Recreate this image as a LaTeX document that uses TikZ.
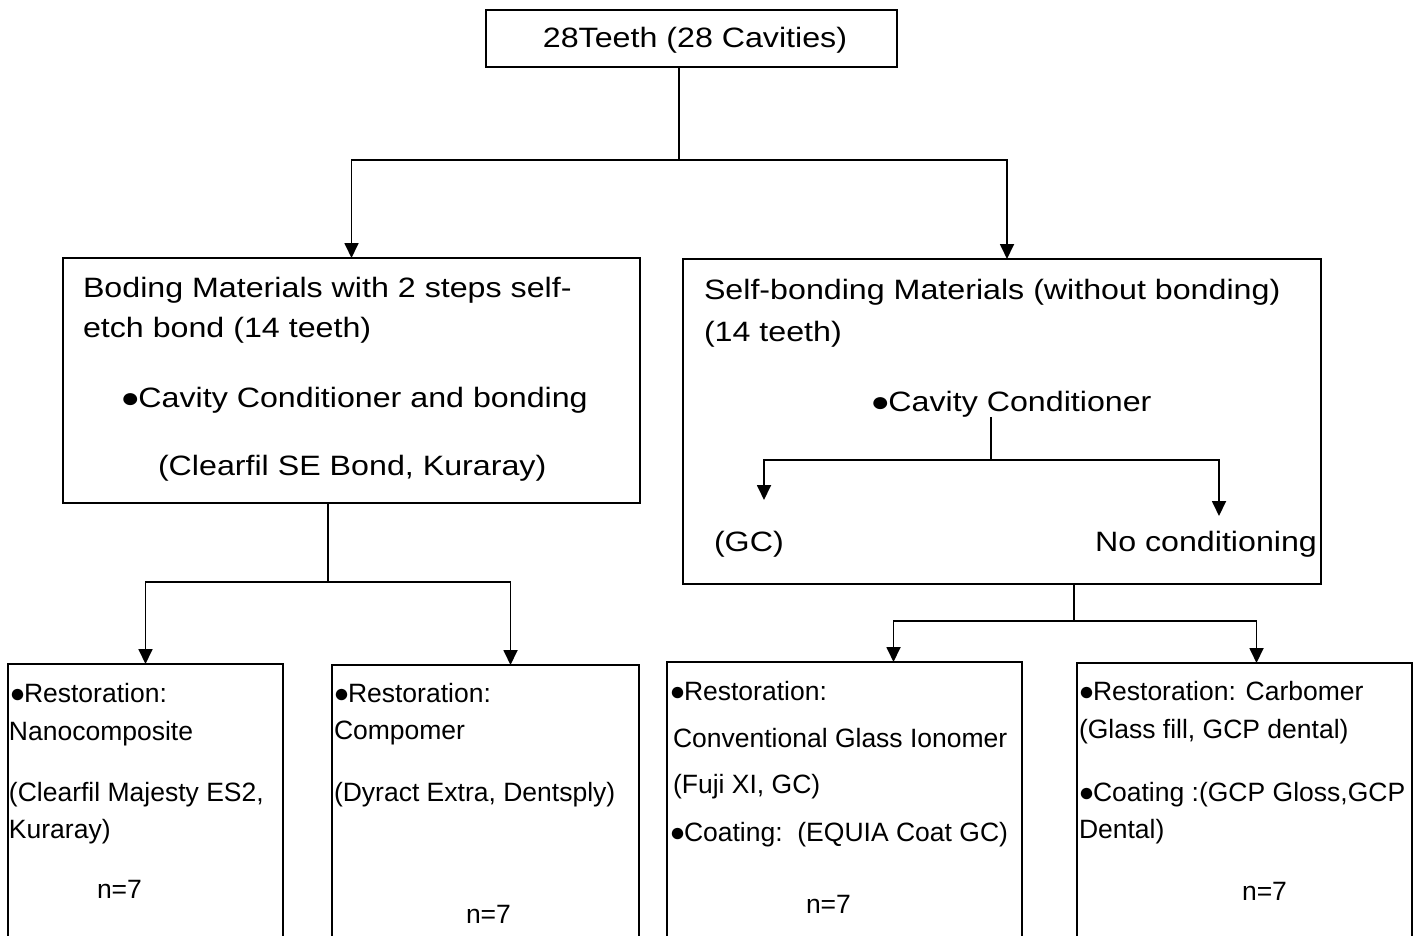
\documentclass[tikz,border=0pt]{standalone}
\usepackage{fontspec}
\usepackage{graphicx}
\setmainfont{Liberation Sans}
\newfontfamily\widefont[FakeStretch=1.15]{Liberation Sans}
\usetikzlibrary{arrows.meta}
\newcommand\bigtxt{\widefont\fontsize{28}{34}\selectfont}
\newcommand\smalltxt{\fontsize{26.5}{32}\selectfont}
\newcommand\bul{\kern-0.5pt\raisebox{-0.02em}{●}\kern-1.5pt}
\begin{document}
\begin{tikzpicture}[x=1pt,y=-1pt,
  box/.style={draw=black, line width=1.8pt, rectangle, inner sep=0pt, outer sep=0pt, anchor=north west},
  conn/.style={draw=black, line width=1.8pt},
  arr/.style={conn, -{Triangle[length=15pt,width=14pt]}},
  bt/.style={inner sep=0pt, outer sep=0pt, anchor=base west, font=\bigtxt},
  st/.style={inner sep=0pt, outer sep=0pt, anchor=base west, font=\smalltxt}]
\useasboundingbox (0,0) rectangle (1424,936);

% boxes
\node[box, minimum width=411pt, minimum height=57pt] (top) at (486,10) {};
\node[box, minimum width=577pt, minimum height=245pt] (left) at (63,258) {};
\node[box, minimum width=638pt, minimum height=325pt] (right) at (683,259) {};
\node[box, minimum width=275pt, minimum height=290pt] (b1) at (8,664) {};
\node[box, minimum width=307pt, minimum height=290pt] (b2) at (332,665) {};
\node[box, minimum width=355pt, minimum height=290pt] (b3) at (667,662) {};
\node[box, minimum width=335pt, minimum height=290pt] (b4) at (1077,663) {};

% top text
\node[bt, anchor=base] (ttop) at (695,48) {28Teeth (28 Cavities)};

% left box texts
\node[bt] (l1) at (83,297) {Boding Materials with 2 steps self-};
\node[bt] (l2) at (83,337) {etch bond (14 teeth)};
\node[bt] (l3) at (121,407) {\bul Cavity Conditioner and bonding};
\node[bt] (l4) at (158,475) {(Clearfil SE Bond, Kuraray)};

% right box texts
\node[bt] (r1) at (704,299) {Self-bonding Materials (without bonding)};
\node[bt] (r2) at (704,341) {(14 teeth)};
\node[bt] (r3) at (871,411) {\bul Cavity Conditioner};
\node[bt] (gc) at (714,551) {(GC)};
\node[bt] (noc) at (1095,551) {No conditioning};

% bottom box 1
\node[st] (a1) at (10,702) {\bul Restoration:};
\node[st] (a2) at (9,740) {Nanocomposite};
\node[st] (a3) at (9,801) {(Clearfil Majesty ES2,};
\node[st] (a4) at (9,838) {Kuraray)};
\node[st] (a5) at (97,898) {n=7};

% bottom box 2
\node[st] (c1) at (334,702) {\bul Restoration:};
\node[st] (c2) at (334,739) {Compomer};
\node[st] (c3) at (334,801) {(Dyract Extra, Dentsply)};
\node[st] (c4) at (466,923) {n=7};

% bottom box 3
\node[st] (d1) at (670,700) {\bul Restoration:};
\node[st] (d2) at (673,747) {Conventional Glass Ionomer};
\node[st] (d3) at (673,793) {(Fuji XI, GC)};
\node[st] (d4) at (670,841) {\bul Coating:\ \ (EQUIA Coat GC)};
\node[st] (d5) at (806,913) {n=7};

% bottom box 4
\node[st] (e1) at (1079,700) {\bul Restoration: Carbomer};
\node[st] (e2) at (1079,738) {(Glass fill, GCP dental)};
\node[st] (e3) at (1079,801) {\bul Coating :(GCP Gloss,GCP};
\node[st] (e4) at (1079,838) {Dental)};
\node[st] (e5) at (1242,900) {n=7};

% connectors
\coordinate (j0) at (679,160);
\draw[conn] (top.south -| j0) -- (j0);
\draw[arr] (j0) -| (left.north);
\draw[arr] (j0) -| ([xshift=5pt]right.north);

\coordinate (j1) at (328,582);
\draw[conn] (left.south -| j1) -- (j1);
\draw[arr] (j1) -| (b1.north);
\draw[arr] (j1) -| ([xshift=25pt]b2.north);

\coordinate (j2) at (1074,621);
\draw[conn] (right.south -| j2) -- (j2);
\draw[arr] (j2) -| ([xshift=49pt]b3.north);
\draw[arr] (j2) -| ([xshift=12pt]b4.north);

\coordinate (j3) at (991,460);
\coordinate (tgc) at (764,500);
\coordinate (tno) at (1219,516);
\draw[conn] (r3.south -| j3) -- (j3);
\draw[arr] (j3) -| (tgc);
\draw[arr] (j3) -| (tno);
\end{tikzpicture}
\end{document}
